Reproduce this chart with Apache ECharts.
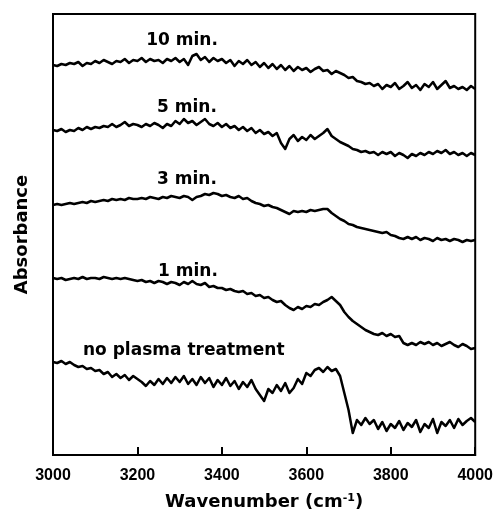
<!DOCTYPE html>
<html>
<head>
<meta charset="utf-8">
<script src="https://cdn.jsdelivr.net/npm/echarts@6/dist/echarts.min.js"></script>
<style>html,body{margin:0;padding:0;background:#fff;}#c{width:496px;height:521px;}</style>
</head>
<body>
<div id="c"></div>
<script>
// Wavenumber sampling (cm-1)
const wavenumbers = [3000,3010,3020,3030,3040,3050,3060,3070,3080,3090,
3100,3110,3120,3130,3140,3150,3160,3170,3180,3190,
3200,3210,3220,3230,3240,3250,3260,3270,3280,3290,
3300,3310,3320,3330,3340,3350,3360,3370,3380,3390,
3400,3410,3420,3430,3440,3450,3460,3470,3480,3490,
3500,3510,3520,3530,3540,3550,3560,3570,3580,3590,
3600,3610,3620,3630,3640,3650,3660,3670,3680,3690,
3700,3710,3720,3730,3740,3750,3760,3770,3780,3790,
3800,3810,3820,3830,3840,3850,3860,3870,3880,3890,
3900,3910,3920,3930,3940,3950,3960,3970,3980,3990,4000];

// Absorbance (arbitrary units, curves offset vertically)
const min10 = [390,389,391,390,392,391,393,389,392,391,
394,392,395,393,391,394,393,396,392,395,
394,397,393,396,394,395,392,396,394,397,
393,396,390,399,401,395,398,393,397,394,
396,392,395,389,394,391,395,390,393,388,
392,387,391,386,390,385,389,384,388,385,
387,383,386,388,384,385,381,384,382,380,
377,378,374,373,371,372,369,371,366,370,
368,372,366,369,373,367,370,365,371,368,
373,366,370,374,367,369,366,368,365,369,366];

const min5 = [325,324,326,323,325,324,327,325,328,326,
328,327,329,328,331,328,330,333,329,331,
330,328,331,329,332,330,327,331,329,334,
331,336,332,334,330,333,336,331,329,332,
328,331,327,329,325,328,324,327,322,325,
321,323,319,322,312,306,316,320,314,318,
315,320,316,319,322,326,319,316,313,311,
309,306,305,303,304,302,303,300,303,301,
303,299,302,300,297,301,299,302,300,303,
301,304,302,305,301,303,300,302,299,302,300];

const min3 = [250,251,250,251,252,251,252,253,252,254,
253,254,255,254,256,255,256,255,257,256,
256,257,256,258,257,256,258,257,259,258,
257,259,258,255,258,259,261,260,262,261,
259,260,258,257,259,256,257,254,252,251,
249,250,248,247,245,243,241,244,243,244,
243,245,244,245,246,246,242,239,236,234,
231,230,228,227,226,225,224,223,222,223,
220,219,217,216,218,216,218,215,217,216,
214,217,215,216,214,216,215,213,215,214,215];

const min1 = [177,176,177,175,176,177,176,178,176,177,
177,176,178,177,176,177,176,177,176,175,
174,175,173,174,172,174,173,171,173,172,
170,173,171,174,171,170,172,168,169,167,
167,165,166,164,163,164,161,162,159,160,
157,158,155,153,154,150,147,145,148,146,
149,148,151,150,153,155,158,154,150,143,
138,134,131,128,125,123,121,120,122,119,
121,118,119,112,110,112,110,113,111,113,
110,112,109,111,113,110,108,111,109,106,107];

const noPlasma = [93,92,94,91,93,90,88,89,86,87,
84,85,81,83,78,81,77,80,75,79,
76,73,69,74,70,76,71,77,72,78,
73,79,71,76,70,78,72,77,68,75,
70,77,69,74,66,73,68,75,66,60,
54,66,62,70,64,72,62,67,76,71,
82,79,85,87,83,88,84,86,79,62,
45,22,35,30,37,31,35,26,33,24,
31,27,34,25,32,28,35,23,31,27,
36,22,33,29,35,27,36,30,34,37,33];

const xTicks = [3000,3200,3400,3600,3800,4000];
const seriesNames = ['10 min.','5 min.','3 min.','1 min.','no plasma treatment'];
const seriesData = [min10, min5, min3, min1, noPlasma];

const chart = echarts.init(document.getElementById('c'), null, {renderer:'canvas'});
const pair = arr => wavenumbers.map((w,i)=>[w, arr[i]]);

const labelFont = 'bold 17px "DejaVu Sans"';
const labelPos = [[182,41],[187,108],[187,180],[188,272],[83,351]];

chart.setOption({
  animation:false,
  backgroundColor:'#fff',
  grid:{left:53,right:16,top:14,bottom:66,show:true,borderColor:'#000',borderWidth:2,backgroundColor:'transparent'},
  xAxis:{
    type:'value',min:3000,max:4000,interval:200,
    name:'{a|Wavenumber (cm}{s|-1}{a|)}',
    nameLocation:'middle',nameGap:38,
    nameTextStyle:{rich:{
      a:{fontFamily:'DejaVu Sans',fontWeight:'bold',fontSize:18,color:'#000'},
      s:{fontFamily:'DejaVu Sans',fontWeight:'bold',fontSize:11,color:'#000',verticalAlign:'top',padding:[0,0,8,0]}
    }},
    axisLine:{show:true,lineStyle:{color:'#000',width:2}},
    axisTick:{show:true,inside:true,length:8,lineStyle:{color:'#000',width:2}},
    axisLabel:{color:'#000',fontFamily:'Liberation Sans',fontWeight:'bold',fontSize:16,margin:13,
      formatter:v=>xTicks.indexOf(v)>=0?String(v):''},
    splitLine:{show:false}
  },
  yAxis:{
    type:'value',min:0,max:441,
    name:'Absorbance',nameLocation:'middle',nameGap:22,
    nameTextStyle:{fontFamily:'DejaVu Sans',fontWeight:'bold',fontSize:18,color:'#000'},
    axisLine:{show:true,lineStyle:{color:'#000',width:2}},
    axisTick:{show:false},axisLabel:{show:false},splitLine:{show:false}
  },
  series: seriesData.map((d,i)=>({
    name:seriesNames[i],type:'line',data:pair(d),showSymbol:false,symbol:'none',
    lineStyle:{color:'#000',width:2.5,join:'round'},smooth:false
  })),
  graphic: seriesNames.map((n,i)=>({
    type:'text',
    x:labelPos[i][0],y:labelPos[i][1],
    style:{text:n,font:labelFont,fill:'#000',
      textAlign: i===4?'left':'center',textVerticalAlign:'middle'}
  }))
});
</script>
</body>
</html>
